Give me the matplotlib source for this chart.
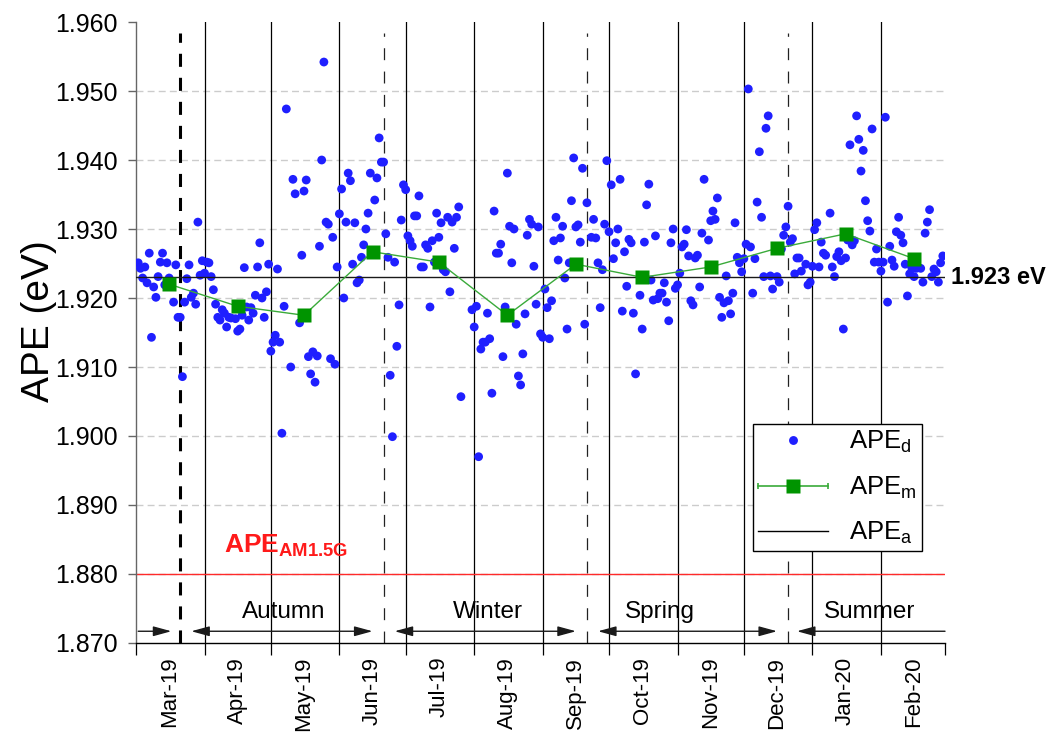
import numpy as np
import pandas as pd
import matplotlib
matplotlib.use("Agg")
import matplotlib.pyplot as plt
import matplotlib.dates as mdates
from matplotlib.lines import Line2D
from matplotlib.legend_handler import HandlerLine2D, HandlerTuple
from matplotlib.transforms import blended_transform_factory

plt.rcParams["font.family"] = ["Liberation Sans", "DejaVu Sans"]
plt.rcParams["mathtext.fontset"] = "custom"
plt.rcParams["mathtext.rm"] = "Liberation Sans"
plt.rcParams["mathtext.it"] = "Liberation Sans:italic"
plt.rcParams["mathtext.bf"] = "Liberation Sans:bold"
plt.rcParams["lines.scale_dashes"] = False

# ---------------------------------------------------------------- data
START = pd.Timestamp("2019-03-01")
END = pd.Timestamp("2020-03-01")

# daily average photon energy: days counted from 1 March 2019
day_offset = [
    1, 2, 3, 4, 5, 6, 7, 8, 9, 10, 11, 12, 13, 14, 15, 17, 18, 19, 20, 21,
    22, 23, 24, 25, 26, 27, 28, 29, 30, 31,
    32, 33, 34, 35, 36, 37, 38, 39, 40, 41, 42, 43, 45, 46, 47, 48, 49, 50,
    51, 52, 53, 54, 55, 56, 57, 58, 59, 60,
    61, 62, 63, 64, 65, 66, 67, 68, 70, 71, 72, 74, 75, 76, 77, 78, 79, 80,
    81, 82, 83, 84, 85, 86, 87, 88, 89, 90, 91,
    92, 93, 94, 95, 96, 97, 98, 99, 100, 101, 102, 103, 104, 105, 106, 108,
    109, 110, 111, 112, 113, 114, 115, 116, 117, 118, 119, 120, 121,
    122, 123, 124, 125, 126, 127, 128, 129, 130, 131, 132, 133, 134, 135, 136,
    137, 138, 139, 140, 141, 142, 143, 144, 145, 146, 147,
    152, 153, 154, 155, 156, 157, 158, 159, 160, 161, 162, 163, 164, 165, 166,
    167, 168, 169, 170, 171, 172, 173, 174, 175, 176, 177, 178, 179, 180, 181,
    182, 183, 184,
    185, 186, 187, 188, 189, 190, 191, 192, 193, 194, 195, 196, 197, 198, 199,
    200, 201, 202, 203, 204, 206, 207, 208, 209, 210, 211, 212, 213,
    214, 215, 216, 217, 218, 219, 220, 221, 222, 223, 224, 225, 226, 228, 229,
    230, 231, 232, 233, 234, 235, 236, 237, 238, 239, 240, 241, 242, 243, 244,
    245, 246, 247, 248, 249, 250, 251, 252, 253, 254, 255, 256, 257, 259, 260,
    261, 262, 263, 264, 265, 266, 267, 268, 269, 270, 271, 272, 273, 274,
    275, 276, 277, 278, 279, 280, 281, 282, 283, 284, 285, 286, 287, 288, 290,
    291, 292, 293, 294, 295, 296, 297, 298, 299, 300, 301, 303, 304, 305,
    306, 307, 308, 309, 310, 311, 312, 314, 315, 316, 317, 318, 319, 320, 321,
    322, 323, 324, 325, 326, 327, 328, 329, 330, 331, 332, 333, 334, 335, 336,
    337, 338, 339, 340, 341, 342, 343, 344, 345, 346, 347, 348, 349, 350, 351,
    352, 353, 355, 356, 357, 358, 359, 360, 361, 362, 363, 364, 365,
]
ape_daily = [
    1.9251, 1.9243, 1.9229, 1.9245, 1.9222, 1.9265, 1.9143, 1.9216, 1.9201, 1.9231,
    1.9252, 1.9265, 1.9219, 1.9251, 1.9229, 1.9194, 1.9248, 1.9172, 1.9172, 1.9086,
    1.9194, 1.9228, 1.9248, 1.9201, 1.9207, 1.9191, 1.9310, 1.9233, 1.9254, 1.9236,
    1.9252, 1.9251, 1.9231, 1.9212, 1.9191, 1.9172, 1.9168, 1.9183, 1.9178, 1.9158,
    1.9172, 1.9171, 1.9170, 1.9152, 1.9155, 1.9175, 1.9244, 1.9187, 1.9168, 1.9186,
    1.9178, 1.9204, 1.9245, 1.9280, 1.9200, 1.9172, 1.9209, 1.9249,
    1.9123, 1.9136, 1.9146, 1.9242, 1.9136, 1.9004, 1.9188, 1.9474, 1.9100, 1.9372,
    1.9351, 1.9164, 1.9262, 1.9355, 1.9371, 1.9115, 1.9090, 1.9122, 1.9078, 1.9116,
    1.9275, 1.9400, 1.9542, 1.9310, 1.9307, 1.9112, 1.9288, 1.9104, 1.9245,
    1.9322, 1.9358, 1.9200, 1.9310, 1.9381, 1.9370, 1.9249, 1.9309, 1.9222, 1.9226,
    1.9259, 1.9277, 1.9300, 1.9323, 1.9381, 1.9342, 1.9374, 1.9432, 1.9397, 1.9397,
    1.9293, 1.9259, 1.9088, 1.8999, 1.9252, 1.9130, 1.9190, 1.9313, 1.9364,
    1.9357, 1.9290, 1.9283, 1.9275, 1.9319, 1.9319, 1.9348, 1.9245, 1.9245, 1.9277,
    1.9272, 1.9187, 1.9283, 1.9252, 1.9323, 1.9288, 1.9309, 1.9241, 1.9238, 1.9317,
    1.9209, 1.9310, 1.9272, 1.9317, 1.9332, 1.9057,
    1.9183, 1.9158, 1.9188, 1.8970, 1.9126, 1.9136, 1.9136, 1.9178, 1.9141, 1.9062,
    1.9326, 1.9265, 1.9265, 1.9278, 1.9115, 1.9187, 1.9381, 1.9304, 1.9251, 1.9300,
    1.9162, 1.9087, 1.9074, 1.9119, 1.9177, 1.9291, 1.9314, 1.9307, 1.9246, 1.9191,
    1.9303, 1.9148, 1.9143,
    1.9213, 1.9186, 1.9141, 1.9196, 1.9283, 1.9317, 1.9255, 1.9287, 1.9304, 1.9229,
    1.9155, 1.9251, 1.9341, 1.9403, 1.9303, 1.9306, 1.9281, 1.9388, 1.9162, 1.9338,
    1.9288, 1.9314, 1.9287, 1.9251, 1.9186, 1.9241, 1.9307, 1.9399,
    1.9296, 1.9364, 1.9257, 1.9280, 1.9300, 1.9372, 1.9181, 1.9267, 1.9217, 1.9285,
    1.9280, 1.9178, 1.9090, 1.9204, 1.9155, 1.9281, 1.9335, 1.9365, 1.9226, 1.9197,
    1.9290, 1.9199, 1.9207, 1.9207, 1.9222, 1.9194, 1.9167, 1.9280, 1.9300, 1.9214,
    1.9219, 1.9236, 1.9274, 1.9278, 1.9299, 1.9261, 1.9196, 1.9190, 1.9258, 1.9262,
    1.9216, 1.9294, 1.9372, 1.9284, 1.9312, 1.9326, 1.9314, 1.9345, 1.9201, 1.9172,
    1.9193, 1.9232, 1.9196, 1.9177, 1.9207, 1.9309, 1.9259, 1.9251, 1.9238,
    1.9257, 1.9278, 1.9503, 1.9274, 1.9207, 1.9257, 1.9339, 1.9412, 1.9317, 1.9231,
    1.9446, 1.9464, 1.9232, 1.9213, 1.9231, 1.9223, 1.9271, 1.9291, 1.9303, 1.9333,
    1.9281, 1.9286, 1.9235, 1.9258, 1.9258, 1.9239, 1.9249, 1.9219, 1.9223,
    1.9246, 1.9299, 1.9309, 1.9245, 1.9281, 1.9265, 1.9262, 1.9323, 1.9245, 1.9231,
    1.9260, 1.9267, 1.9254, 1.9155, 1.9258, 1.9284, 1.9422, 1.9277, 1.9283, 1.9464,
    1.9430, 1.9384, 1.9414, 1.9341, 1.9312, 1.9297, 1.9445, 1.9252, 1.9271, 1.9252,
    1.9239, 1.9252, 1.9462, 1.9194, 1.9275, 1.9255, 1.9246, 1.9296, 1.9317, 1.9291,
    1.9280, 1.9249, 1.9203, 1.9235, 1.9243, 1.9231, 1.9243, 1.9243, 1.9223, 1.9294,
    1.9310, 1.9328, 1.9231, 1.9242, 1.9238, 1.9223, 1.9251, 1.9261,
]

month_labels = ["Mar-19", "Apr-19", "May-19", "Jun-19", "Jul-19", "Aug-19",
                "Sep-19", "Oct-19", "Nov-19", "Dec-19", "Jan-20", "Feb-20"]
ape_monthly = [1.9220, 1.9188, 1.9175, 1.9267, 1.9252, 1.9175,
               1.9249, 1.9230, 1.9245, 1.9272, 1.9293, 1.9257]
ape_annual = 1.923
ape_am15g = 1.880

season_names = ["Autumn", "Winter", "Spring", "Summer"]
season_starts = ["2019-03-21", "2019-06-21", "2019-09-21", "2019-12-21"]
season_label_dates = ["2019-05-07", "2019-08-07", "2019-10-24", "2020-01-27"]
# (from, to, arrow style) of the season span arrows
season_arrows = [
    ("2019-03-02", "2019-03-17", "-|>"),
    ("2019-03-26", "2019-06-16", "<|-|>"),
    ("2019-06-26", "2019-09-16", "<|-|>"),
    ("2019-09-26", "2019-12-16", "<|-|>"),
    ("2019-12-25", "2020-03-01", "<|-"),
]

# ---------------------------------------------------------------- derived
daily_dates = START + pd.to_timedelta(day_offset, unit="D")
month_starts = pd.date_range(START, END, freq="MS")
month_mids = month_starts[:-1] + pd.Timedelta(days=15)

DOT = "#1f1fff"
SQUARE = "#009400"
LINE_G = "#3aaa3a"

# ---------------------------------------------------------------- figure
fig = plt.figure(figsize=(10.47, 7.34), dpi=100)
ax = fig.add_axes([0.1299, 0.124, 0.7727, 0.846])
ax.set_xlim(START, END)
ax.set_ylim(1.870, 1.960)

for s in ("top", "right"):
    ax.spines[s].set_visible(False)
ax.spines["left"].set_color("#666666")
ax.spines["left"].set_linewidth(1.0)
ax.spines["bottom"].set_color("black")
ax.spines["bottom"].set_linewidth(1.0)

# horizontal dashed grid
for v in np.round(np.arange(1.880, 1.9501, 0.010), 3):
    ax.axhline(v, color="#cccccc", lw=1.0, ls=(0, (5, 3)), zorder=0)

# month boundaries
for ms in month_starts[1:-1]:
    ax.axvline(ms, color="black", lw=0.9, zorder=1)

# season boundaries
for i, ss in enumerate(season_starts):
    if i == 0:
        ax.axvline(pd.Timestamp(ss), ymax=0.982, color="black", lw=2.2,
                   ls=(0, (9.4, 7.9)), zorder=1)
    else:
        ax.axvline(pd.Timestamp(ss), ymax=0.982, color="#222222", lw=0.9,
                   ls=(0, (8.6, 8.2)), zorder=1)

# reference spectrum and annual average
ax.axhline(ape_am15g, color="#ff2a2a", lw=1.0, zorder=2)
ax.axhline(ape_annual, color="#1a1a1a", lw=1.0, zorder=4)

# daily and monthly values
ax.scatter(daily_dates, ape_daily, s=40, color=DOT, edgecolors="none",
           zorder=3)
ax.plot(month_mids, ape_monthly, color=LINE_G, lw=1.0, zorder=5)
ax.plot(month_mids, ape_monthly, ls="none", marker="s", ms=9.4,
        mfc=SQUARE, mec="none", zorder=6)

# season arrows and names
y_arrow = 1.8717
for a, b, st in season_arrows:
    ax.annotate("", xy=(mdates.date2num(pd.Timestamp(b)), y_arrow),
                xytext=(mdates.date2num(pd.Timestamp(a)), y_arrow),
                arrowprops=dict(arrowstyle=st + ",head_length=0.55,head_width=0.15",
                                mutation_scale=20, lw=1.0, color="#1a1a1a",
                                shrinkA=0, shrinkB=0),
                annotation_clip=False, zorder=4)
for name, d in zip(season_names, season_label_dates):
    ax.text(pd.Timestamp(d), 1.8745, name, ha="center", va="center",
            fontsize=17.5, zorder=5)

# axes ticks
ax.set_xticks(month_starts)
ax.set_xticklabels([])
ax.set_xticks(month_mids, minor=True)
ax.set_xticklabels(month_labels, minor=True, rotation=90, fontsize=16)
ax.tick_params(axis="x", which="major", direction="out", length=8.6,
               width=0.9, color="black")
ax.tick_params(axis="x", which="minor", length=0, pad=10)

yt = np.round(np.arange(1.870, 1.9601, 0.010), 3)
ax.set_yticks(yt)
ax.set_yticklabels([f"{v:.3f}" for v in yt], fontsize=18)
ax.tick_params(axis="y", direction="out", length=6, width=1.0,
               color="#666666", pad=7)
ax.set_ylabel("APE (eV)", fontsize=28)
ax.yaxis.set_label_coords(-0.098, 0.518)

# annotations
ax.text(1.008, ape_annual, "1.923 eV",
        transform=blended_transform_factory(ax.transAxes, ax.transData),
        fontsize=17, fontweight="bold", ha="left", va="center")
ax.text(pd.Timestamp("2019-04-10"), 1.8830,
        r"$\mathbf{APE}_{\mathbf{AM1.5G}}$", color="#ff1a1a", fontsize=19,
        ha="left", va="baseline", zorder=5)

# legend
h_d = Line2D([], [], ls="none", marker="o", ms=6.4, mfc=DOT, mec="none")
h_m_bar = Line2D([], [], color=LINE_G, lw=1.2, marker="|", ms=5, mew=1.2)
h_m_sq = Line2D([], [], ls="none", marker="s", ms=9.4, mfc=SQUARE, mec="none")
h_a = Line2D([], [], color="black", lw=1.0)
leg = ax.legend(
    [h_d, (h_m_bar, h_m_sq), h_a],
    [r"APE$_\mathrm{d}$", r"APE$_\mathrm{m}$", r"APE$_\mathrm{a}$"],
    handler_map={h_m_bar: HandlerLine2D(numpoints=2, marker_pad=0),
                 tuple: HandlerTuple(ndivide=1, pad=0)},
    numpoints=1, loc="upper left", bbox_to_anchor=(0.7627, 0.3527),
    borderaxespad=0, fontsize=18.5, frameon=True, fancybox=False,
    edgecolor="black", framealpha=1, handlelength=2.7, handletextpad=0.85,
    labelspacing=0.75, borderpad=0.2)
leg.get_frame().set_linewidth(1.0)
leg.set_zorder(10)

fig.savefig("out.png", dpi=100)
